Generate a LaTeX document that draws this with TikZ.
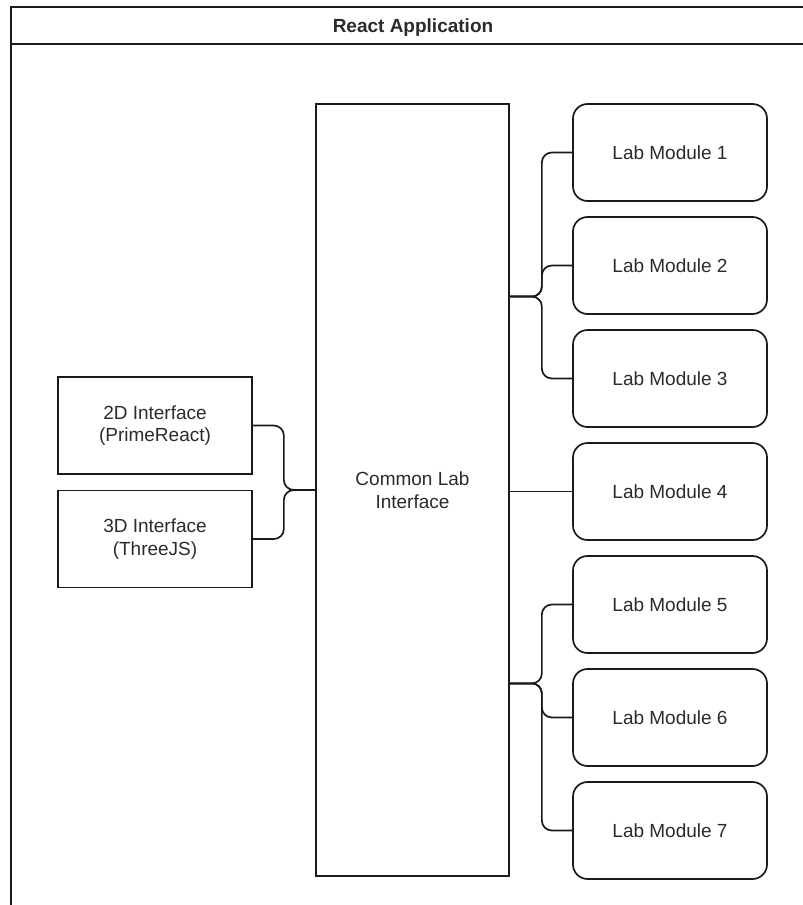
\documentclass[tikz,border=0pt]{standalone}
\usepackage{fontspec}
\setmainfont{Liberation Sans}
\usetikzlibrary{calc}
\definecolor{linec}{HTML}{1A1A1A}
\definecolor{textc}{HTML}{2B2B2B}
\tikzset{
  every node/.style={font=\fontsize{19pt}{22.8pt}\selectfont, text=textc},
  plainbox/.style={draw=linec, line width=1.7pt, fill=white, inner sep=0pt, align=center},
  modbox/.style={plainbox, rounded corners=14.5pt, minimum width=194pt, minimum height=97pt},
  sidebox/.style={plainbox, minimum width=194pt, minimum height=97pt},
  conn/.style={draw=linec, line width=1.7pt, rounded corners=10pt},
  frame/.style={draw=linec, line width=1.7pt}
}
\begin{document}
\begin{tikzpicture}[x=1pt,y=-1pt]
\useasboundingbox (0,0) rectangle (803,905);
% container
\coordinate (ctl) at (11,7);
\coordinate (ctr) at (810,7);
\coordinate (chl) at (11,44);
\coordinate (chr) at (810,44);
\coordinate (cbl) at (11,910);
\draw[frame] (ctr) -- (ctl) -- (cbl);
\draw[frame] (chl) -- (chr);
\node[font=\fontsize{19pt}{22.8pt}\selectfont\bfseries] (title) at (413,28) {React Application};
% central box
\node[plainbox, minimum width=193pt, minimum height=772pt] (big) at (412.5,490) {Common Lab\\Interface};
% left boxes
\node[sidebox] (d2) at (155,425.5) {2D Interface\\(PrimeReact)};
\node[sidebox] (d3) at (155,539) {3D Interface\\(ThreeJS)};
% modules
\foreach \i in {1,...,7} {
  \node[modbox] (m\i) at (670,{152.5+113*(\i-1)}) {Lab Module \i};
}
% fork points
\coordinate (topfork) at ($(big.north east)!0.25!(big.south east)$);
\coordinate (botfork) at ($(big.north east)!0.75!(big.south east)$);
% right connectors
\foreach \i in {1,2,3} {
  \draw[conn] (topfork) -- ++(32,0) |- (m\i.west);
}
\foreach \i in {5,6,7} {
  \draw[conn] (botfork) -- ++(32,0) |- (m\i.west);
}
\draw[conn] (m4.west -| big.east) -- (m4.west);
% left connectors
\draw[conn] (d2.east) -- ++(31,0) |- (big.west);
\draw[conn] (d3.east) -- ++(31,0) |- (big.west);
\end{tikzpicture}
\end{document}
